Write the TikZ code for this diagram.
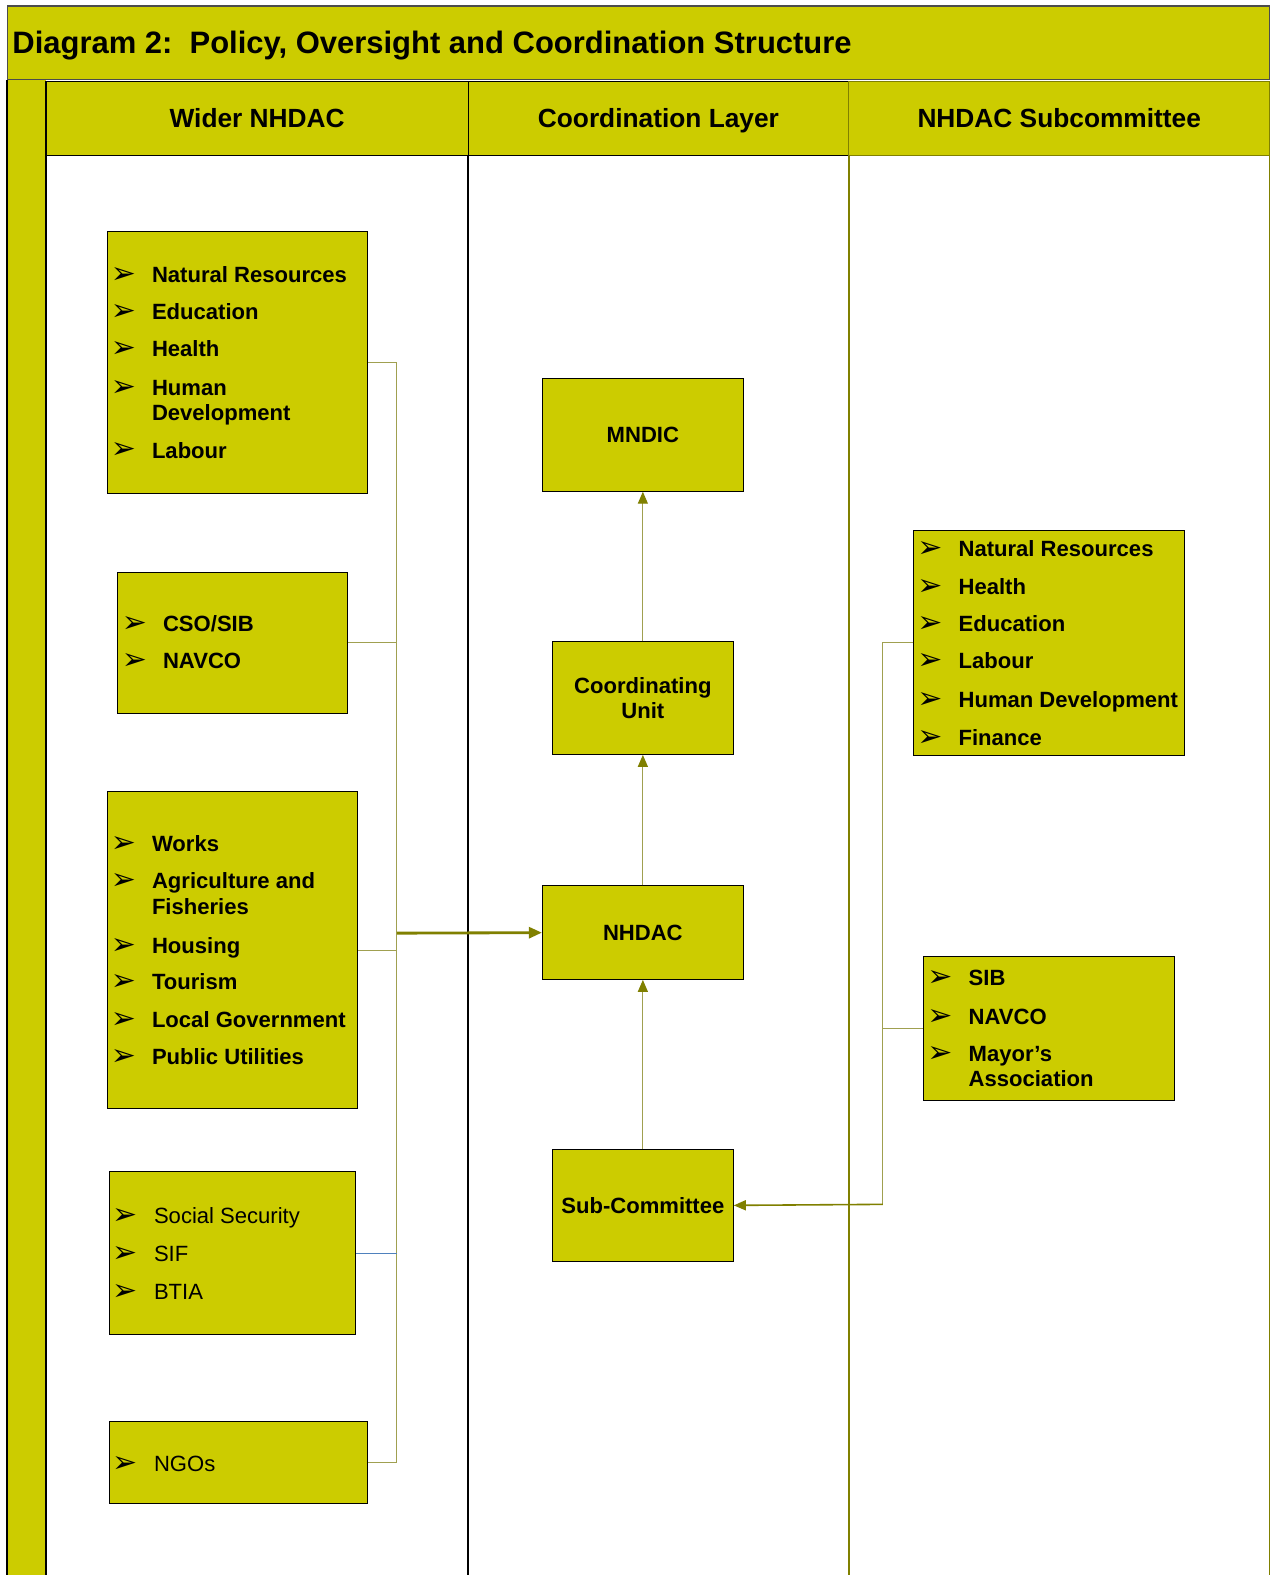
\documentclass[tikz,border=0pt]{standalone}
\usepackage{fontspec}
\setmainfont{Liberation Sans}
\newfontfamily\bulletfont{DejaVu Sans}
\usetikzlibrary{arrows.meta,positioning}

\definecolor{nhyellow}{RGB}{204,204,0}
\definecolor{nholive}{RGB}{128,128,0}
\definecolor{nhline}{RGB}{160,160,80}
\definecolor{nhblue}{RGB}{79,129,189}

\newcommand{\titlefont}{\bfseries\fontsize{17.55pt}{20pt}\selectfont}
\newcommand{\headfont}{\bfseries\fontsize{14.9pt}{17pt}\selectfont}
\newcommand{\itemfont}{\fontsize{12.5pt}{14.2pt}\selectfont}
\newcommand{\bul}[1]{\makebox[0.76cm][l]{\kern-0.06cm\raisebox{-0.5pt}{\bulletfont\fontsize{17pt}{18pt}\selectfont ➢}}#1}
\newcommand{\twolines}[2]{\begin{tabular}[t]{@{}l@{}}#1\\#2\end{tabular}}

\begin{document}
\begin{tikzpicture}[x=0.02cm, y=-0.02cm,
    listbox/.style={draw=black, line width=0.6pt, fill=nhyellow, inner sep=0pt},
    unitbox/.style={listbox, font=\itemfont\bfseries, align=center},
    headbox/.style={draw=black, line width=0.6pt, fill=nhyellow, minimum height=1.48cm,
      text height=10.7pt, text depth=0pt, font=\headfont},
    item/.style={anchor=base west, inner sep=0pt, font=\itemfont\bfseries},
    plainitem/.style={item, font=\itemfont},
    feed/.style={draw=nhline, line width=0.6pt},
    uparrow/.style={draw=nhline, line width=0.7pt, -{Triangle[length=0.24cm, width=0.2cm, color=nholive]}}]
\useasboundingbox (0,0) rectangle (1268,1568);

% title band and frame
\draw[black!70, line width=0.6pt, fill=nhyellow] (7,6) rectangle (1264,79);
\node[anchor=base west, inner sep=0pt, font=\titlefont] (title) at (12,53)
  {Diagram 2:\ \ Policy, Oversight and Coordination Structure};
\fill[nhyellow] (7,80) rectangle (46,1568);
\draw[black, line width=0.9pt] (7,80) -- (7,1568);
\draw[black, line width=0.9pt] (46,81) -- (46,1568);
\draw[black, line width=1.1pt] (466,155) -- (466,1568);
\draw[nholive, line width=0.9pt] (845,155) -- (845,1568);
\draw[nholive, line width=0.9pt] (1264,81) -- (1264,1568);

% column headers
\node[headbox, minimum width=8.4cm] (hwide) at (256,118) {Wider NHDAC};
\node[headbox, minimum width=7.58cm] (hcoord) at (655.5,118) {Coordination Layer};
\node[headbox, draw=nholive, minimum width=8.38cm] (hsub) at (1054.5,118) {NHDAC Subcommittee};

% wider NHDAC
\node[listbox, minimum width=5.18cm, minimum height=5.22cm] (wide1) at (236.5,360.5) {};
\foreach \y/\t [count=\i] in {281/Natural Resources, 318/Education, 355/Health,
    394/{\twolines{Human}{Development}}, 456/Labour}
  \node[item] (w1i\i) at (113,\y) {\bul{\t}};

\node[listbox, minimum width=4.58cm, minimum height=2.8cm] (wide2) at (231.5,640) {};
\foreach \y/\t [count=\i] in {629/{CSO/SIB}, 666/NAVCO}
  \node[item] (w2i\i) at (124,\y) {\bul{\t}};

\node[listbox, minimum width=4.98cm, minimum height=6.32cm] (wide3) at (231.5,946) {};
\foreach \y/\t [count=\i] in {848/Works, 885/{\twolines{Agriculture and}{Fisheries}}, 949/Housing,
    985/Tourism, 1023/Local Government, 1060/Public Utilities}
  \node[item] (w3i\i) at (113,\y) {\bul{\t}};

\node[listbox, minimum width=4.9cm, minimum height=3.26cm] (wide4) at (231.5,1247.5) {};
\foreach \y/\t [count=\i] in {1218/Social Security, 1256/SIF, 1294/BTIA}
  \node[plainitem] (w4i\i) at (115,\y) {\bul{\t}};

\node[listbox, minimum width=5.14cm, minimum height=1.64cm] (wide5) at (237.5,1456) {};
\node[plainitem] (w5i1) at (115,1465) {\bul{NGOs}};

% coordination layer
\node[unitbox, minimum width=4cm, minimum height=1.86cm] (nhdac) at (640,928.5) {NHDAC};
\node[unitbox, minimum width=3.6cm, minimum height=2.24cm, above=2.6cm of nhdac] (unit) {Coordinating\\Unit};
\node[unitbox, minimum width=4cm, minimum height=2.24cm, above=2.98cm of unit] (mndic) {MNDIC};
\node[unitbox, minimum width=3.6cm, minimum height=2.24cm, below=3.36cm of nhdac] (subc) {Sub-Committee};

% NHDAC subcommittee
\node[listbox, minimum width=5.4cm, minimum height=4.48cm] (sub1) at (1044,640) {};
\foreach \y/\t [count=\i] in {554/Natural Resources, 592/Health, 629/Education,
    666/Labour, 704/Human Development, 742/Finance}
  \node[item] (s1i\i) at (916,\y) {\bul{\t}};

\node[listbox, minimum width=5cm, minimum height=2.88cm] (sub2) at (1044,1024) {};
\foreach \y/\t [count=\i] in {981/SIB, 1020/NAVCO, 1057/{\twolines{Mayor’s}{Association}}}
  \node[item] (s2i\i) at (926,\y) {\bul{\t}};

% connectors
\coordinate (lbus) at (395,929);
\draw[feed] (wide1.east) -- (wide1.east -| lbus) -- (wide5.east -| lbus) -- (wide5.east);
\draw[feed] (wide2.east) -- (wide2.east -| lbus);
\draw[feed] (wide3.east) -- (wide3.east -| lbus);
\draw[feed, draw=nhblue] (wide4.east) -- (wide4.east -| lbus);
\draw[nholive, line width=1.6pt, -{Triangle[length=0.26cm, width=0.22cm]}] (lbus) -- (nhdac.west);

\coordinate (rbus) at (879,1199);
\draw[feed] (sub1.west) -- (sub1.west -| rbus) -- (rbus);
\draw[feed] (sub2.west) -- (sub2.west -| rbus);
\draw[nholive, line width=0.9pt, -{Triangle[length=0.24cm, width=0.2cm]}] (rbus) -- (subc.east);

\draw[uparrow] (subc.north) -- (nhdac.south);
\draw[uparrow] (nhdac.north) -- (unit.south);
\draw[uparrow] (unit.north) -- (mndic.south);
\end{tikzpicture}
\end{document}
